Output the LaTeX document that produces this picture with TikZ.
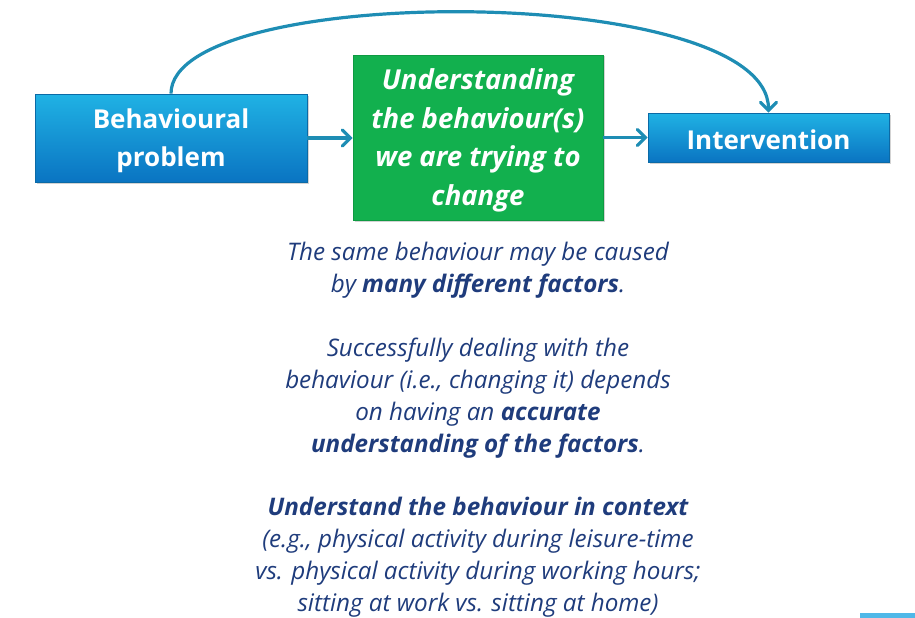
\documentclass[tikz,border=0pt]{standalone}
\usepackage{fontspec}
\setmainfont{Open Sans}
\usetikzlibrary{arrows.meta,shadows}
\definecolor{txtblue}{HTML}{1F3C7C}
\definecolor{arrowblue}{HTML}{1E8DB4}
\definecolor{boxtop}{HTML}{20B2E4}
\definecolor{boxbot}{HTML}{0A74C2}
\definecolor{boxedge}{HTML}{0B6AA6}
\definecolor{greenbox}{HTML}{12B04E}
\definecolor{greenedge}{HTML}{0E9A42}
\definecolor{barblue}{HTML}{4FB8E8}
\tikzset{
  bluebox/.style={draw=boxedge, line width=0.8pt, top color=boxtop, bottom color=boxbot,
    inner sep=0pt, drop shadow={shadow xshift=1.5pt, shadow yshift=-1.5pt, opacity=0.35}},
  greenbox/.style={draw=greenedge, line width=0.8pt, fill=greenbox,
    inner sep=0pt, drop shadow={shadow xshift=1.5pt, shadow yshift=-1.5pt, opacity=0.35}},
  bluetext/.style={text=white, font=\fontsize{26}{38}\selectfont\bfseries, align=center, inner sep=0pt},
  greentext/.style={text=white, font=\fontsize{27.5}{38.5}\selectfont\bfseries\itshape, align=center, inner sep=0pt},
  conn/.style={draw=arrowblue, line width=3.2pt, -{Straight Barb[length=8pt,width=16pt,line cap=round]}},
  bodytext/.style={text=txtblue, font=\fontsize{24.2}{32}\selectfont\itshape, align=center, inner sep=0pt}
}
\begin{document}
\begin{tikzpicture}[x=1pt,y=-1pt]
\useasboundingbox (0,0) rectangle (915,618);
\node[bluebox, minimum width=272pt, minimum height=88pt] (bp) at (171,138) {};
\node[greenbox, minimum width=250pt, minimum height=165pt] (ub) at (478,137.5) {};
\node[bluebox, minimum width=241pt, minimum height=49pt] (iv) at (768.5,137.5) {};
\node[bluetext] (bpt) at ([yshift=-3pt]bp.center) {Behavioural\\problem};
\node[greentext] (ubt) at ([yshift=-3pt]ub.center) {Understanding\\the behaviour(s)\\we are trying to\\change};
\node[bluetext] (ivt) at ([yshift=-2pt]iv.center) {Intervention};
\draw[conn] (bp.east) -- (ub.west |- bp.east);
\draw[conn] (ub.east |- iv.west) -- (iv.west);
\draw[conn] (bp.north) .. controls (171,-18) and (768.5,-18) .. (iv.north);
\node[bodytext] (p1) at (478,270) {The same behaviour may be caused\\by \textbf{many different factors}.};
\node[bodytext] (p2) at (478,398.5) {Successfully dealing with the\\behaviour (i.e., changing it) depends\\on having an \textbf{accurate}\\\textbf{understanding of the factors}.};
\node[bodytext] (p3) at (478,557) {\textbf{Understand the behaviour in context}\\(e.g., physical activity during leisure-time\\vs. physical activity during working hours;\\sitting at work vs. sitting at home)};
\fill[barblue] (860,613) rectangle (915,618);
\end{tikzpicture}
\end{document}
